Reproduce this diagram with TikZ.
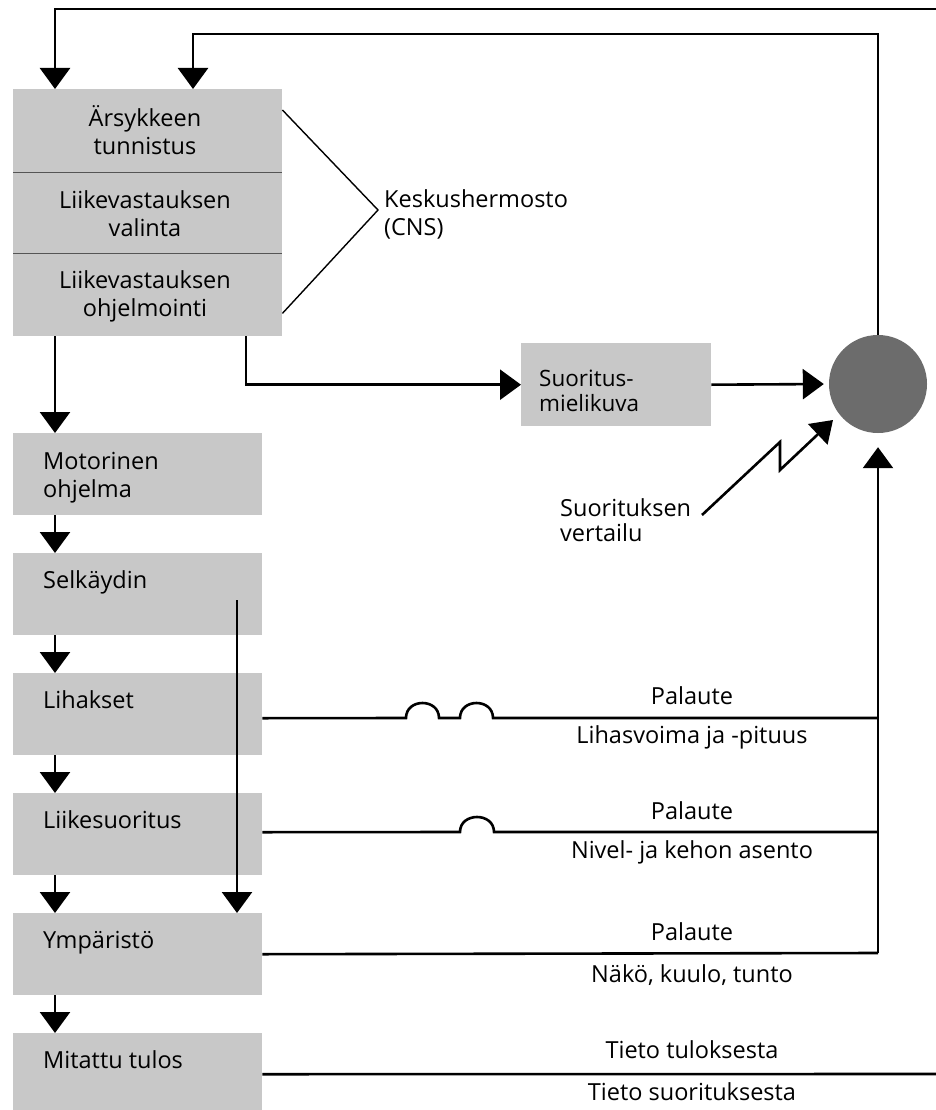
\documentclass[tikz,border=0pt]{standalone}
\usepackage{fontspec}
\setmainfont{Open Sans}
\usetikzlibrary{arrows.meta}
\definecolor{boxgray}{RGB}{200,200,200}
\definecolor{divgray}{RGB}{85,85,85}
\definecolor{circgray}{RGB}{108,108,108}
\begin{document}
\begin{tikzpicture}[x=1pt,y=-1pt,
  box/.style={fill=boxgray, draw=none, inner sep=0pt, anchor=north west},
  txt/.style={font=\fontsize{23.5}{28}\selectfont, inner sep=0pt, align=left, anchor=base west},
  ctxt/.style={font=\fontsize{23.5}{28}\selectfont, inner sep=0pt, align=center, anchor=base},
  conn/.style={line width=2.6pt},
  arr/.style={conn, -{Triangle[width=30pt,length=21pt]}},
  divider/.style={divgray, line width=1.6pt},
  bracket/.style={line width=1.4pt},
]
\useasboundingbox (0,0) rectangle (936,1110);
\clip (0,0) rectangle (936,1110);
\fill[white] (0,0) rectangle (936,1110);

% CNS stack
\node[box, minimum width=269pt, minimum height=83pt] (s1) at (13,89) {};
\node[box, minimum width=269pt, minimum height=81pt] (s2) at (13,172) {};
\node[box, minimum width=269pt, minimum height=83pt] (s3) at (13,253) {};
\draw[divider] (s1.south west) -- (s1.south east);
\draw[divider] (s2.south west) -- (s2.south east);
\node[ctxt] (t1) at (145,155) {Ärsykkeen\\tunnistus};
\node[ctxt] (t2) at (145,236) {Liikevastauksen\\valinta};
\node[ctxt] (t3) at (145,316) {Liikevastauksen\\ohjelmointi};

% bracket and CNS label
\coordinate (apex) at (378,210);
\draw[bracket] ([yshift=-21pt]s1.north east) -- (apex) -- ([yshift=23pt]s3.south east);
\node[txt] (cnsl) at (384,235) {Keskushermosto\\(CNS)};

% left column
\node[box, minimum width=249pt, minimum height=82pt] (mot) at (13,433) {};
\node[box, minimum width=249pt, minimum height=82pt] (sel) at (13,553) {};
\node[box, minimum width=249pt, minimum height=82pt] (lih) at (13,673) {};
\node[box, minimum width=249pt, minimum height=82pt] (lik) at (13,793) {};
\node[box, minimum width=249pt, minimum height=82pt] (ymp) at (13,913) {};
\node[box, minimum width=249pt, minimum height=82pt] (mit) at (13,1033) {};
\node[txt] (tmot) at (43,497) {Motorinen\\ohjelma};
\node[txt] (tsel) at (43,588) {Selkäydin};
\node[txt] (tlih) at (43,708) {Lihakset};
\node[txt] (tlik) at (43,828) {Liikesuoritus};
\node[txt] (tymp) at (43,948) {Ympäristö};
\node[txt] (tmit) at (43,1068) {Mitattu tulos};

% Suoritusmielikuva and comparison circle
\node[box, minimum width=190pt, minimum height=83pt] (sm) at (521,343) {};
\node[txt, font=\fontsize{22.5}{25}\selectfont] (tsm) at (539,411) {Suoritus-\\mielikuva};
\node[circle, fill=circgray, minimum size=98pt, inner sep=0pt] (c) at (878,384) {};
\node[txt, font=\fontsize{23.5}{25}\selectfont] (tver) at (560,541) {Suorituksen\\vertailu};

% coordinates for free ends
\coordinate (topin) at (936,9);
\coordinate (cr) at (878,34);
\coordinate (rb) at (878,953);
\coordinate (exitR) at (936,1074);
\coordinate (z0) at (702,515);
\coordinate (z1) at (780,442);
\coordinate (z2) at (780,470);
\coordinate (ztip) at (833,420);

% top feedback loops
\draw[arr] (topin) -| ([xshift=42pt]s1.north west);
\draw[arr] (c.north) -- (cr) -| ([xshift=180pt]s1.north west);

% CNS outputs
\draw[arr] ([xshift=42pt]s3.south west) -- ([xshift=42pt]mot.north west);
\draw[arr] ([xshift=233pt]s3.south west) |- (sm.west);
\draw[arr, shorten >=5pt] (sm.east) -- (c.west);

% left column chain
\draw[arr] ([xshift=42pt]mot.south west) -- ([xshift=42pt]sel.north west);
\draw[arr] ([xshift=42pt]sel.south west) -- ([xshift=42pt]lih.north west);
\draw[arr] ([xshift=42pt]lih.south west) -- ([xshift=42pt]lik.north west);
\draw[arr] ([xshift=42pt]lik.south west) -- ([xshift=42pt]ymp.north west);
\draw[arr] ([xshift=42pt]ymp.south west) -- ([xshift=42pt]mit.north west);
\draw[arr] ([xshift=224pt,yshift=-47pt]sel.north west) -- ([xshift=224pt]ymp.north west);

% feedback lines
\draw[conn] ([yshift=-4pt]lih.east) -- (406,718)
  .. controls (406,698) and (439,698) .. (439,718) -- (460,718)
  .. controls (460,698) and (493,698) .. (493,718) -- (878,718);
\draw[conn] ([yshift=2pt]lik.east) -- (460,832)
  .. controls (460,812) and (494,812) .. (494,832) -- (878,832);
\draw[conn] (ymp.east) -- (rb);
\draw[arr, shorten >=14pt] (rb) -- (c.south);
\draw[conn] (mit.east) -- (exitR);

% comparison zigzag
\draw[conn, -{Triangle[width=28pt,length=21pt]}] (z0) -- (z1) -- (z2) -- (ztip);

% feedback labels
\node[ctxt] (p1) at (692,704) {Palaute};
\node[ctxt] (q1) at (692,743) {Lihasvoima ja -pituus};
\node[ctxt] (p2) at (692,819) {Palaute};
\node[ctxt] (q2) at (692,858) {Nivel- ja kehon asento};
\node[ctxt] (p3) at (692,940) {Palaute};
\node[ctxt] (q3) at (692,982) {Näkö, kuulo, tunto};
\node[ctxt] (p4) at (692,1058) {Tieto tuloksesta};
\node[ctxt] (q4) at (692,1100) {Tieto suorituksesta};
\end{tikzpicture}
\end{document}
